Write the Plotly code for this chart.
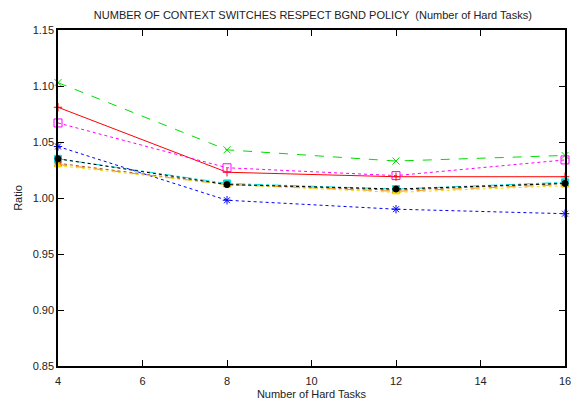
import plotly.graph_objects as go

x_tasks = [4, 8, 12, 16]
series_names = ["s1", "s2", "s3", "s4", "s5", "s6", "s7", "s8", "s9"]
red_vals = [1.081, 1.023, 1.019, 1.019]
green_vals = [1.103, 1.043, 1.033, 1.038]
blue_vals = [1.046, 0.998, 0.990, 0.986]
magenta_vals = [1.067, 1.027, 1.020, 1.034]
cyan_vals = [1.035, 1.013, 1.008, 1.014]
sienna_vals = [1.031, 1.012, 1.007, 1.013]
orange_vals = [1.030, 1.012, 1.006, 1.012]
yellow_vals = [1.029, 1.012, 1.005, 1.011]
black_vals = [1.035, 1.012, 1.008, 1.013]

y_ticks = [0.85, 0.90, 0.95, 1.00, 1.05, 1.10, 1.15]
x_ticks = [4, 6, 8, 10, 12, 14, 16]

styles = [
    (red_vals, "#ff0000", "solid", "cross-thin-open", 6),
    (green_vals, "#00dd00", "dash", "x-thin-open", 7),
    (blue_vals, "#0000ff", "dot", "asterisk-open", 7),
    (magenta_vals, "#ff00ff", "dot", "square-open", 8),
    (cyan_vals, "#00dddd", "dashdot", "square", 7),
    (sienna_vals, "#a0522d", "dot", "circle", 6),
    (orange_vals, "#ff8c00", "dash", "triangle-up", 7),
    (yellow_vals, "#eedd00", "dot", "triangle-up", 6),
    (black_vals, "#000000", "dot", "circle", 6),
]

fig = go.Figure()
for name, (vals, col, dash, sym, size) in zip(series_names, styles):
    fig.add_trace(go.Scatter(
        x=x_tasks, y=vals, name=name, mode="lines+markers",
        line=dict(color=col, width=1, dash=dash),
        marker=dict(symbol=sym, size=size, color=col,
                    line=dict(color=col, width=1)),
        showlegend=False, cliponaxis=False,
    ))

font_family = "Liberation Sans, Arial, sans-serif"
fig.update_layout(
    width=573, height=400,
    margin=dict(l=58, r=8, t=30, b=34),
    paper_bgcolor="white", plot_bgcolor="white",
    font=dict(family=font_family, size=11, color="#222222"),
    title=dict(text="NUMBER OF CONTEXT SWITCHES RESPECT BGND POLICY  (Number of Hard Tasks)",
               x=0.546, xanchor="center", y=0.962, yanchor="middle",
               font=dict(size=11, family=font_family, color="#222222")),
)
fig.update_xaxes(
    range=[4, 16], tickvals=x_ticks, ticktext=[str(v) for v in x_ticks],
    ticks="inside", ticklen=6, tickcolor="black", mirror="ticks",
    ticklabelstandoff=4, automargin=False,
    showline=True, linecolor="black", linewidth=1.5, showgrid=False, zeroline=False,
    title=dict(text="Number of Hard Tasks", standoff=9, font=dict(size=11)),
)
fig.update_yaxes(
    range=[0.85, 1.15], tickvals=y_ticks, ticktext=["%.2f" % v for v in y_ticks],
    ticks="inside", ticklen=6, tickcolor="black", mirror="ticks",
    automargin=False,
    showline=True, linecolor="black", linewidth=1.5, showgrid=False, zeroline=False,
    title=dict(text="Ratio", standoff=8, font=dict(size=11)),
)

fig.write_html("out.html")
